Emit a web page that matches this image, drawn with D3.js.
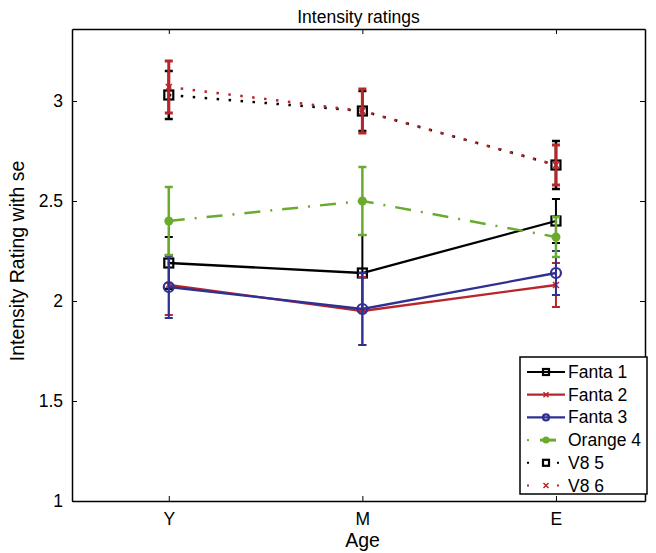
<!DOCTYPE html>
<html>
<head>
<meta charset="utf-8">
<script src="https://cdn.jsdelivr.net/npm/d3@7"></script>
<style>
  body { margin: 0; background: #fff; }
  svg { font-family: "Liberation Sans", Arial, sans-serif; }
</style>
</head>
<body>
<svg id="chart"></svg>
<script>
// data
const ages = ['Y', 'M', 'E'];
const seriesNames = ['Fanta 1', 'Fanta 2', 'Fanta 3', 'Orange 4', 'V8 5', 'V8 6'];
const fanta1 = [2.19, 2.14, 2.40];
const fanta1Se = [0.13, 0.19, 0.11];
const fanta2 = [2.08, 1.95, 2.08];
const fanta2Se = [0.15, 0.17, 0.11];
const fanta3 = [2.07, 1.96, 2.14];
const fanta3Se = [0.155, 0.18, 0.11];
const orange4 = [2.40, 2.50, 2.32];
const orange4Se = [0.17, 0.17, 0.10];
const v85 = [3.03, 2.95, 2.68];
const v85Se = [0.12, 0.10, 0.12];
const v86 = [3.07, 2.95, 2.68];
const v86Se = [0.13, 0.11, 0.10];
const yTicks = [1, 1.5, 2, 2.5, 3];

const width = 656, height = 553;
const margin = { top: 29, right: 11, bottom: 52, left: 72 };

const red = '#b8262b', blue = '#2e3192', green = '#6aab2e';

const styles = [
    { color: '#000', dash: null, width: 2.3, marker: 'square', barWidth: 2 },
    { color: red, dash: null, width: 2.3, marker: 'x', barWidth: 2 },
    { color: blue, dash: null, width: 2.3, marker: 'circle', barWidth: 2 },
    { color: green, dash: '16,10,2,10', width: 2.5, marker: 'star', barWidth: 2.5 },
    { color: '#000', dash: '2.5,9.5', width: 2.5, marker: 'square', barWidth: 2.5 },
    { color: red, dash: '2.5,9.5', width: 2.5, marker: 'x', barWidth: 3 }
];
const means = [fanta1, fanta2, fanta3, orange4, v85, v86];
const ses = [fanta1Se, fanta2Se, fanta3Se, orange4Se, v85Se, v86Se];

const series = seriesNames.map((name, i) => ({
    name,
    style: styles[i],
    points: ages.map((a, j) => ({ x: j + 1, y: means[i][j], se: ses[i][j] }))
}));

const svg = d3.select('#chart').attr('width', width).attr('height', height);

const x = d3.scaleLinear().domain([0.5, 3.46]).range([margin.left, width - margin.right]);
const y = d3.scaleLinear().domain([1, 3.36]).range([height - margin.bottom, margin.top]);

const plotW = width - margin.left - margin.right;
const plotH = height - margin.top - margin.bottom;

// axes (matlab style: ticks inward, box on)
const xAxis = d3.axisBottom(x).tickValues([1, 2, 3]).tickFormat((d, i) => ages[i])
    .tickSizeInner(-5).tickSizeOuter(0).tickPadding(12);
const yAxis = d3.axisLeft(y).tickValues(yTicks).tickFormat(d3.format('~g'))
    .tickSizeInner(-5).tickSizeOuter(0).tickPadding(9);

const gx = svg.append('g').attr('transform', `translate(0,${height - margin.bottom})`).call(xAxis);
const gy = svg.append('g').attr('transform', `translate(${margin.left},0)`).call(yAxis);
const gxTop = svg.append('g').attr('transform', `translate(0,${margin.top})`)
    .call(d3.axisTop(x).tickValues([1, 2, 3]).tickFormat('').tickSizeInner(-5).tickSizeOuter(0));
const gyRight = svg.append('g').attr('transform', `translate(${width - margin.right},0)`)
    .call(d3.axisRight(y).tickValues(yTicks).tickFormat('').tickSizeInner(-5).tickSizeOuter(0));

[gx, gy, gxTop, gyRight].forEach(g => {
    g.select('.domain').attr('stroke', '#000').attr('stroke-width', 1.5);
    g.selectAll('.tick line').attr('stroke', '#000').attr('stroke-width', 1);
    g.selectAll('.tick text').attr('fill', '#000').style('font-size', '17.5px');
});

svg.append('text')
    .attr('x', margin.left + plotW / 2).attr('y', 23)
    .attr('text-anchor', 'middle').style('font-size', '17.5px')
    .text('Intensity ratings');

svg.append('text')
    .attr('x', margin.left + plotW / 2 + 4).attr('y', 547)
    .attr('text-anchor', 'middle').style('font-size', '19.5px')
    .text('Age');

svg.append('text')
    .attr('transform', `translate(24,${margin.top + plotH / 2 - 4}) rotate(-90)`)
    .attr('text-anchor', 'middle').style('font-size', '19.5px')
    .text('Intensity Rating with se');

function drawMarker(g, type, cx, cy, color, size) {
    if (type === 'square') {
        g.append('rect')
            .attr('x', cx - size / 2).attr('y', cy - size / 2)
            .attr('width', size).attr('height', size)
            .attr('fill', 'none').attr('stroke', color).attr('stroke-width', 2.2);
    } else if (type === 'circle') {
        g.append('circle').attr('cx', cx).attr('cy', cy).attr('r', size / 2)
            .attr('fill', 'none').attr('stroke', color).attr('stroke-width', 2.2);
    } else if (type === 'x') {
        const h = size / 2;
        g.append('path')
            .attr('d', `M${cx - h},${cy - h}L${cx + h},${cy + h}M${cx - h},${cy + h}L${cx + h},${cy - h}`)
            .attr('stroke', color).attr('stroke-width', 1.5);
    } else if (type === 'star') {
        g.append('circle').attr('cx', cx).attr('cy', cy).attr('r', size / 2)
            .attr('fill', color);
    }
}

const line = d3.line().x(d => x(d.x)).y(d => y(d.y));
const markerSize = { square: 9, circle: 10, x: 6, star: 9 };

series.forEach(s => {
    const g = svg.append('g');
    const st = s.style;
    // error bars
    s.points.forEach(p => {
        const cx = x(p.x);
        const top = y(p.y + p.se), bot = y(p.y - p.se);
        g.append('line').attr('x1', cx).attr('x2', cx).attr('y1', top).attr('y2', bot)
            .attr('stroke', st.color).attr('stroke-width', st.barWidth);
        [top, bot].forEach(yy => {
            g.append('line').attr('x1', cx - 4).attr('x2', cx + 4).attr('y1', yy).attr('y2', yy)
                .attr('stroke', st.color).attr('stroke-width', st.barWidth);
        });
    });
    g.append('path').datum(s.points)
        .attr('d', line)
        .attr('fill', 'none')
        .attr('stroke', st.color)
        .attr('stroke-width', st.width)
        .attr('stroke-dasharray', st.dash)
        .attr('stroke-linecap', st.dash ? 'butt' : 'round');
    s.points.forEach(p => drawMarker(g, st.marker, x(p.x), y(p.y), st.color, markerSize[st.marker]));
});

// legend
const lg = svg.append('g').attr('transform', 'translate(520,357)');
lg.append('rect').attr('width', 127).attr('height', 137)
    .attr('fill', '#fff').attr('stroke', '#000').attr('stroke-width', 1.5);

series.forEach((s, i) => {
    const st = s.style;
    const yy = 15 + i * 22.7;
    const row = lg.append('g');
    if (st.dash && st.dash.startsWith('2.5')) {
        [8, 38].forEach(xx => row.append('rect').attr('x', xx - 1).attr('y', yy - 1)
            .attr('width', 2).attr('height', 2).attr('fill', st.color));
    } else if (st.dash) {
        row.append('rect').attr('x', 7).attr('y', yy - 1).attr('width', 2).attr('height', 2).attr('fill', st.color);
        row.append('line').attr('x1', 20).attr('x2', 36).attr('y1', yy).attr('y2', yy)
            .attr('stroke', st.color).attr('stroke-width', 3);
    } else {
        row.append('line').attr('x1', 7).attr('x2', 45).attr('y1', yy).attr('y2', yy)
            .attr('stroke', st.color).attr('stroke-width', 2.2);
    }
    const ms = st.marker === 'star' ? 7 : st.marker === 'x' ? 5 : 6;
    drawMarker(row, st.marker, 26, yy, st.color, ms);
    row.append('text').attr('x', 48).attr('y', yy + 6)
        .style('font-size', '17.5px').text(s.name);
});
</script>
</body>
</html>
